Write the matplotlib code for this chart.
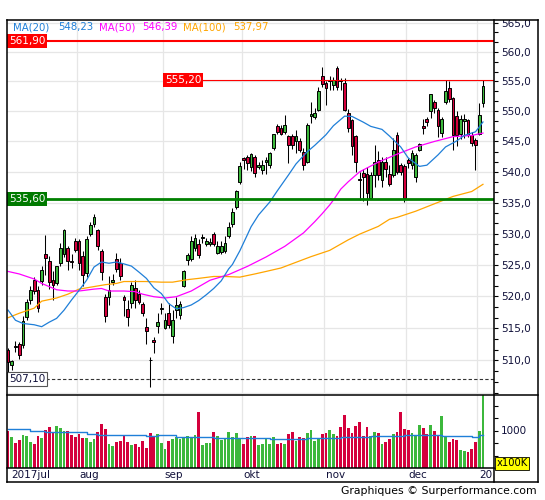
import matplotlib
matplotlib.use("Agg")
import matplotlib.pyplot as plt
import numpy as np
import matplotlib.transforms as mtransforms
from matplotlib.ticker import MultipleLocator, FuncFormatter, NullFormatter
from matplotlib.lines import Line2D
from matplotlib.patches import Rectangle

# ---------------- data ----------------
opens = [511.65, 509.3, 512.25, 512.55, 512.35, 516.75, 519.45, 522.65, 520.95, 522.45,
         526.65, 525.65, 522.65, 522.05, 525.25, 526.75, 527.75, 525.65, 528.75, 528.75,
         526.45, 523.75, 530.0, 531.5, 530.6, 527.25, 519.95, 519.95, 522.35, 525.85,
         525.35, 519.95, 517.95, 518.95, 521.25, 520.35, 518.75, 515.25, 510.1, 513.25,
         515.35, 518.05, 515.05, 517.35, 513.85, 517.85, 517.05, 521.65, 525.75, 525.85,
         527.65, 528.35, 529.25, 528.35, 528.35, 530.0, 526.95, 527.05, 527.15, 529.55,
         531.5, 534.3, 538.4, 542.2, 542.4, 540.8, 542.4, 540.8, 540.3, 541.7,
         541.1, 543.9, 547.5, 547.2, 546.6, 545.9, 545.9, 545.1, 545.0, 543.3,
         541.6, 549.2, 549.1, 550.3, 555.85, 554.75, 555.05, 554.45, 557.2, 555.25,
         554.75, 549.7, 548.5, 545.9, 538.8, 539.8, 539.7, 535.7, 539.5, 542.0,
         538.7, 541.6, 539.7, 539.5, 546.0, 541.1, 540.9, 541.9, 541.1, 539.1,
         543.6, 547.5, 548.8, 550.0, 551.6, 550.3, 546.4, 551.5, 553.95, 552.2,
         549.2, 546.2, 548.4, 548.5, 546.0, 545.3, 546.3, 551.4]
highs = [512.0, 510.1, 512.95, 512.85, 516.95, 519.55, 521.65, 523.05, 521.65, 524.75,
         529.75, 526.35, 523.95, 524.8, 528.45, 530.7, 527.95, 526.65, 529.25, 529.05,
         527.15, 529.55, 531.8, 533.1, 530.8, 527.45, 520.35, 523.15, 523.55, 526.85,
         526.05, 520.25, 519.45, 522.35, 522.55, 521.05, 519.15, 516.55, 510.6, 513.65,
         517.35, 518.95, 517.45, 518.95, 517.85, 519.95, 519.35, 524.15, 526.85, 529.65,
         530.0, 529.05, 530.0, 529.25, 529.35, 530.3, 528.75, 528.75, 529.55, 531.9,
         534.2, 537.0, 541.6, 542.4, 542.8, 543.1, 542.8, 541.6, 541.9, 542.4,
         543.3, 546.3, 547.9, 547.7, 549.4, 546.1, 546.2, 546.9, 545.5, 543.9,
         548.0, 551.6, 550.6, 554.05, 557.5, 555.15, 555.85, 555.75, 557.6, 555.65,
         555.55, 550.4, 548.8, 546.1, 540.0, 540.5, 540.8, 539.9, 544.4, 543.5,
         542.4, 542.4, 541.2, 545.5, 546.6, 541.4, 541.3, 542.2, 543.6, 543.1,
         544.7, 548.8, 549.0, 552.9, 551.9, 550.6, 549.1, 555.2, 555.15, 552.4,
         550.0, 549.4, 549.6, 548.7, 546.5, 545.6, 551.4, 555.2]
lows = [508.15, 508.55, 511.3, 510.3, 512.0, 516.35, 518.85, 520.35, 517.55, 521.85,
        523.35, 521.15, 519.45, 521.75, 524.75, 526.25, 524.15, 524.55, 527.05, 524.25,
        521.65, 523.05, 529.65, 531.1, 527.35, 522.65, 515.95, 518.65, 521.85, 523.85,
        522.65, 516.85, 515.35, 518.25, 518.25, 518.75, 516.95, 512.55, 505.95, 511.2,
        514.25, 517.25, 514.85, 515.05, 512.65, 516.55, 516.45, 521.45, 524.95, 525.55,
        527.25, 526.05, 528.45, 527.95, 527.95, 527.95, 526.75, 526.75, 526.95, 529.35,
        531.1, 534.0, 538.0, 540.5, 540.3, 540.2, 539.2, 540.5, 539.7, 539.6,
        540.7, 543.6, 546.3, 546.0, 546.3, 541.5, 543.8, 543.1, 543.3, 540.3,
        541.4, 548.0, 548.7, 550.1, 554.15, 551.1, 553.65, 553.65, 553.65, 553.65,
        550.0, 546.6, 542.7, 540.0, 535.4, 535.2, 534.6, 535.5, 537.6, 538.7,
        537.6, 539.2, 537.7, 539.1, 539.7, 539.5, 535.1, 540.7, 540.5, 538.4,
        543.4, 546.3, 547.5, 548.9, 549.7, 545.8, 545.8, 551.3, 551.5, 543.6,
        544.2, 545.4, 545.5, 545.8, 544.2, 540.3, 546.0, 550.8]
closes = [509.8, 509.9, 512.1, 510.8, 516.15, 519.15, 521.05, 520.85, 518.15, 524.25,
          526.15, 522.25, 521.85, 524.75, 527.75, 530.5, 525.55, 525.45, 527.35, 525.25,
          523.45, 529.15, 531.4, 532.6, 528.05, 523.85, 516.85, 521.05, 522.65, 524.35,
          523.15, 519.45, 516.75, 521.85, 519.45, 519.05, 517.35, 514.65, 510.0, 512.85,
          515.95, 518.25, 516.25, 515.55, 516.35, 518.65, 518.85, 523.95, 526.55, 528.75,
          529.35, 526.55, 529.45, 528.75, 528.65, 528.35, 527.95, 527.95, 528.55, 531.0,
          533.4, 536.9, 541.0, 542.0, 541.5, 543.0, 539.8, 541.2, 541.1, 541.9,
          543.1, 546.2, 546.6, 546.3, 547.8, 544.4, 544.4, 545.9, 543.6, 541.1,
          547.8, 549.5, 549.7, 553.45, 554.65, 553.95, 555.25, 555.25, 554.15, 555.05,
          550.3, 547.2, 544.3, 541.6, 538.6, 539.1, 536.5, 539.5, 541.6, 539.5,
          541.6, 540.5, 538.1, 543.6, 540.0, 540.0, 535.7, 541.4, 543.1, 542.8,
          544.6, 547.3, 548.3, 552.85, 550.6, 547.6, 548.7, 553.45, 552.0, 546.0,
          546.0, 548.7, 548.7, 546.0, 544.7, 544.4, 549.4, 554.25]
volumes = [996, 876, 756, 810, 910, 896, 776, 730, 896, 856,
           1010, 1070, 963, 1096, 1043, 996, 996, 910, 876, 936,
           856, 856, 776, 830, 976, 1130, 1036, 730, 696, 776,
           796, 896, 776, 710, 730, 676, 796, 656, 943, 876,
           930, 756, 630, 796, 823, 863, 830, 876, 890, 863,
           910, 1376, 710, 743, 743, 963, 890, 810, 843, 963,
           863, 943, 843, 730, 863, 883, 883, 710, 730, 843,
           723, 863, 723, 743, 723, 923, 963, 796, 876, 856,
           943, 1010, 796, 830, 923, 943, 1010, 923, 896, 1063,
           1310, 1043, 943, 1090, 1163, 890, 1063, 896, 963, 943,
           730, 763, 830, 930, 963, 1376, 1030, 1010, 943, 910,
           1110, 1043, 930, 1110, 990, 910, 1290, 876, 776, 830,
           810, 610, 596, 576, 630, 776, 990, 1760]

avgvol_idx = [0, 6, 10, 21, 24, 37, 40, 45, 55, 70, 80, 89, 97, 106, 116, 124, 126, 127]
avgvol_val = [1023, 996, 963, 930, 910, 890, 910, 863, 843, 830, 843, 863, 890, 910, 896, 876, 910, 910]

ma20_idx = [0, 2, 4, 7, 9, 11, 13, 15, 17, 19, 21, 23, 25, 27, 29, 31, 33, 35, 37, 39,
            41, 43, 45, 47, 49, 51, 53, 55, 57, 59, 60, 62, 64, 65, 67, 70, 72, 75, 77, 80,
            82, 85, 87, 90, 92, 95, 97, 100, 102, 105, 107, 110, 112, 115, 117, 120, 122, 125, 127]
ma20_val = [517.85, 516.25, 515.75, 515.55, 515.25, 515.95, 516.55, 517.85, 519.45, 520.95,
            522.55, 524.65, 525.45, 525.25, 525.45, 525.15, 524.8, 523.85, 522.85, 521.35,
            520.45, 518.85, 518.05, 518.25, 518.65, 519.35, 520.25, 521.25, 522.45, 524.35,
            525.05, 527.25, 529.8, 531.1, 533.0, 535.1, 536.9, 539.5, 541.3, 543.3,
            544.35, 546.1, 547.6, 549.2, 549.15, 548.2, 547.5, 547.0, 545.9, 544.1,
            542.3, 540.9, 541.1, 542.8, 544.1, 545.1, 546.0, 546.6, 548.23]
ma50_idx = [0, 3, 7, 9, 13, 16, 19, 23, 25, 27, 31, 34, 36, 39, 42, 45, 49, 54, 59, 64,
            69, 74, 79, 82, 84, 86, 87, 88, 89, 91, 94, 99, 104, 109, 114, 119, 124, 127]
ma50_val = [523.95, 523.55, 522.75, 522.05, 521.05, 520.85, 520.85, 521.15, 521.25, 520.85,
            520.85, 520.75, 520.35, 519.95, 519.75, 519.95, 520.85, 522.55, 523.45, 524.75,
            526.25, 527.95, 530.1, 531.9, 533.2, 534.6, 535.4, 536.3, 537.2, 538.4,
            540.0, 541.6, 542.9, 544.1, 545.0, 545.8, 546.0, 546.39]
ma100_idx = [0, 3, 7, 9, 13, 16, 19, 23, 26, 29, 31, 34, 37, 41, 44, 48, 51, 55, 58, 62,
             66, 69, 73, 75, 81, 86, 91, 94, 99, 102, 104, 109, 114, 119, 124, 127]
ma100_val = [516.65, 517.35, 518.15, 519.25, 519.75, 520.35, 521.15, 521.55, 521.85, 522.05,
             522.35, 522.35, 522.35, 522.25, 522.25, 522.65, 522.85, 523.15, 523.15, 523.05,
             523.55, 523.95, 524.5, 524.95, 526.3, 527.3, 529.0, 529.9, 531.15, 532.3,
             532.6, 533.6, 534.8, 536.0, 536.8, 537.97]

ma_names = ['MA(20)', 'MA(50)', 'MA(100)']
ma_last = [548.23, 546.39, 537.97]

month_labels = ['2017jul', 'aug', 'sep', 'okt', 'nov', 'dec', '20']
month_start = [0, 19, 42, 63, 85, 107, 126]

level_top = 561.90
level_mid = 555.20
level_support = 535.60
level_low = 507.10

# ---------------- styling ----------------
GREEN = '#3cb83c'
RED = '#d4003c'
C_MA20 = '#1f7fd8'
C_MA50 = '#ff00ff'
C_MA100 = '#ffa500'
GRID = '#e6e6e6'
TXT = '#10103a'

W, H = 545.0, 500.0
def fx(p):
    return p / W
def fy(p):
    return 1.0 - p / H

fig = plt.figure(figsize=(5.45, 5.0), dpi=100, facecolor='white')
ax = fig.add_axes([fx(7), fy(395), fx(494) - fx(7), fy(20) - fy(395)])
axv = fig.add_axes([fx(7), fy(468), fx(494) - fx(7), fy(395) - fy(468)])

n = len(opens)
x = np.arange(n)
o = np.array(opens); hh = np.array(highs); ll = np.array(lows); c = np.array(closes)
up = c >= o
cols = np.where(up, GREEN, RED)

XL = (-0.27, 129.95)
ax.set_yscale('log')
ax.set_xlim(*XL)
ax.set_ylim(504.69, 565.44)

def price_label(v, p):
    if v < 507:
        return ''
    return f'{v:.1f}'.replace('.', ',')

# grid
ax.yaxis.set_major_locator(MultipleLocator(5))
ax.yaxis.set_minor_locator(MultipleLocator(5 / 3))
ax.yaxis.set_major_formatter(FuncFormatter(price_label))
ax.yaxis.set_minor_formatter(NullFormatter())
ax.grid(axis='y', which='major', color=GRID, lw=0.9, zorder=0)
ax.set_axisbelow(True)
for m in month_start[1:]:
    ax.axvline(m - 0.5, color=GRID, lw=0.9, zorder=0)
    axv.axvline(m - 0.5, color=GRID, lw=0.9, zorder=0)

# candles
ax.vlines(x, ll, hh, color='black', lw=0.75, zorder=3)
ax.bar(x, np.maximum(np.abs(c - o), 0.12), bottom=np.minimum(o, c), width=0.74,
       color=cols, edgecolor='black', linewidth=0.7, zorder=4)

# moving averages
ax.plot(ma100_idx, ma100_val, color=C_MA100, lw=0.9, zorder=5)
ax.plot(ma50_idx, ma50_val, color=C_MA50, lw=0.9, zorder=5)
ax.plot(ma20_idx, ma20_val, color=C_MA20, lw=0.9, zorder=5)

# levels
ax.axhline(level_top, color='#ff0000', lw=1.5, zorder=6)
ax.hlines(level_mid, 41.7, XL[1], color='#ff0000', lw=0.8, zorder=6)
ax.axhline(level_support, color='#008000', lw=2.0, zorder=6)
ax.axhline(level_low, color='#333333', lw=0.8, ls=(0, (3, 2)), zorder=6)

def fmt2(v):
    return f'{v:.2f}'.replace('.', ',')

tr = mtransforms.blended_transform_factory(ax.transAxes, ax.transData)
ax.text(0.004, level_top, fmt2(level_top), transform=tr, color='white', fontsize=7.5,
        va='center', ha='left', zorder=8,
        bbox=dict(boxstyle='square,pad=0.18', fc='#ff0000', ec='none'))
ax.text(41.9, level_mid, fmt2(level_mid), color='white', fontsize=7.5,
        va='center', ha='left', zorder=8,
        bbox=dict(boxstyle='square,pad=0.18', fc='#ff0000', ec='none'))
ax.text(0.004, level_support, fmt2(level_support), transform=tr, color='white', fontsize=7.5,
        va='center', ha='left', zorder=8,
        bbox=dict(boxstyle='square,pad=0.18', fc='#007a00', ec='none'))
ax.text(0.004, level_low, fmt2(level_low), transform=tr, color=TXT, fontsize=7.5,
        va='center', ha='left', zorder=8,
        bbox=dict(boxstyle='square,pad=0.18', fc='white', ec='#555555', lw=0.8))

# right axis ticks
ax.yaxis.set_ticks_position('right')
ax.tick_params(axis='y', which='both', direction='out', length=3, width=0.8,
               color='black', labelcolor=TXT, labelsize=7.5, pad=2)
ax.tick_params(axis='x', which='both', bottom=False, top=False, labelbottom=False)
for s in ax.spines.values():
    s.set_visible(False)

# volume
axv.set_xlim(*XL)
axv.set_ylim(250, 1710)
axv.bar(x, volumes, width=0.74, color=cols, zorder=2)
axv.plot(avgvol_idx, avgvol_val, drawstyle='steps-post', color=C_MA20, lw=1.0, zorder=3)
axv.yaxis.set_ticks_position('right')
axv.yaxis.set_major_locator(MultipleLocator(250))
axv.yaxis.set_major_formatter(FuncFormatter(lambda v, p: '1000' if abs(v - 1000) < 1 else ''))
axv.tick_params(axis='y', which='both', direction='out', length=3, width=0.8,
                color='black', labelcolor=TXT, labelsize=7.5, pad=2)
axv.tick_params(axis='x', which='both', bottom=False, top=False, labelbottom=False)
for s in axv.spines.values():
    s.set_visible(False)

trv = mtransforms.blended_transform_factory(axv.transData, axv.transAxes)
label_x = [0.8] + [m - 0.05 for m in month_start[1:]]
for lab, xx in zip(month_labels, label_x):
    axv.text(xx, -0.096, lab, transform=trv, ha='left', va='center',
             fontsize=7.5, color=TXT, clip_on=False)

# header legend
hdr_x = [13, 58, 99, 142, 183, 233]
hdr_txt = []
for name, val in zip(ma_names, ma_last):
    hdr_txt += [name, fmt2(val)]
hdr_col = [C_MA20, C_MA20, C_MA50, C_MA50, C_MA100, C_MA100]
for px, t, col in zip(hdr_x, hdr_txt, hdr_col):
    fig.text(fx(px), fy(27), t, color=col, fontsize=7.3, ha='left', va='center', zorder=10)

# cover above frame (clip top label)
fig.add_artist(Rectangle((fx(495), fy(19.6)), fx(545) - fx(495), 19.6 / H,
                         transform=fig.transFigure, fc='white', ec='none', zorder=20))

# frame lines
def fline(x0, y0, x1, y1, lw=1.1):
    fig.add_artist(Line2D([fx(x0), fx(x1)], [fy(y0), fy(y1)], transform=fig.transFigure,
                          color='black', lw=lw, zorder=21, solid_capstyle='projecting'))

fline(7, 20, 538, 20)
fline(7, 482, 538, 482)
fline(7, 20, 7, 482)
fline(538, 20, 538, 482)
fline(7, 395, 538, 395)
fline(7, 468, 494, 468)
fline(494, 20, 494, 482)

fig.text(fx(496.5), fy(463.5), 'x100K', ha='left', va='center', fontsize=7.2, color='black',
         zorder=22, bbox=dict(boxstyle='square,pad=0.12', fc='#ffff00', ec='black', lw=0.6))

fig.text(fx(537), fy(491), 'Graphiques \u00a9 Surperformance.com', ha='right', va='center',
         fontsize=7.8, color='black')

fig.savefig('out.png', dpi=100, facecolor='white')
